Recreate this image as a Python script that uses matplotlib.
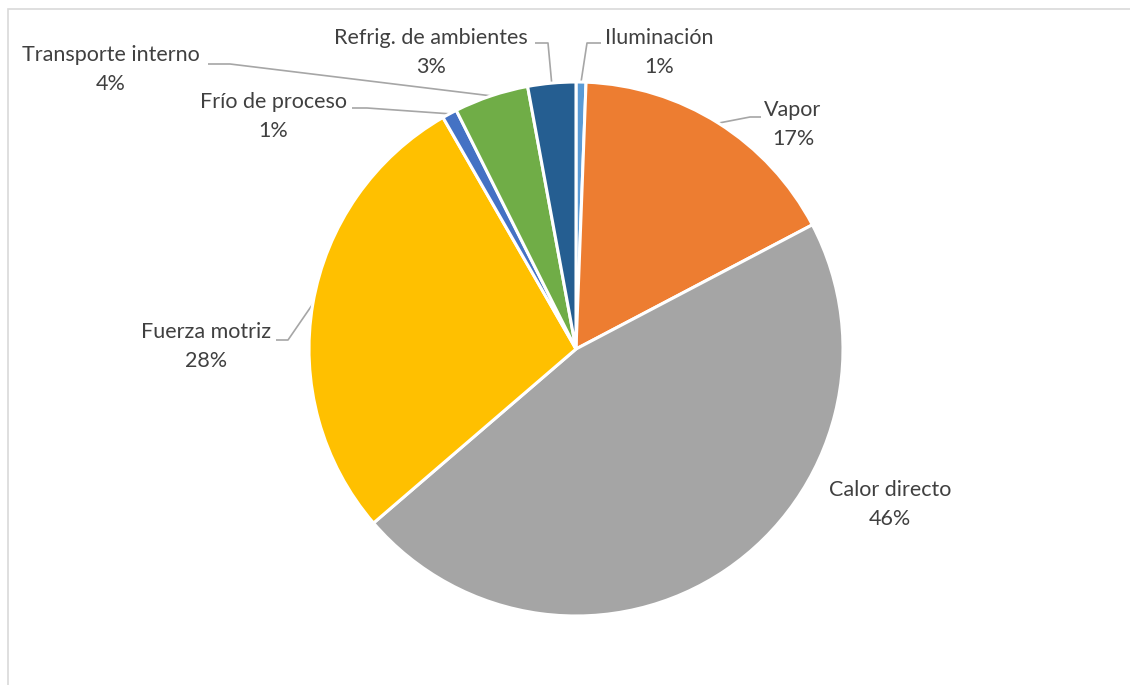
import matplotlib
matplotlib.use("Agg")
import matplotlib.pyplot as plt
import numpy as np
from matplotlib.patches import Rectangle

# ---- data ----
categories = ["Iluminación", "Vapor", "Calor directo", "Fuerza motriz",
              "Frío de proceso", "Transporte interno", "Refrig. de ambientes"]
values = [0.6, 16.7, 46.4, 28.0, 0.9, 4.5, 2.9]
pct_labels = ["1%", "17%", "46%", "28%", "1%", "4%", "3%"]
colors = ["#5B9BD5", "#ED7D31", "#A5A5A5", "#FFC000", "#4472C4", "#70AD47", "#255E91"]

W, H = 1130, 685
fig = plt.figure(figsize=(W / 100, H / 100), dpi=100)
ax = fig.add_axes([0, 0, 1, 1])
ax.set_xlim(0, W)
ax.set_ylim(0, H)
ax.set_aspect("equal")
ax.axis("off")

def Y(py):
    return H - py

# chart frame
ax.add_patch(Rectangle((8, -10), W + 20, Y(9) + 10, fill=False,
                       edgecolor="#D9D9D9", linewidth=1.2))

cx, cy, r = 576, Y(349), 267
wedges, _ = ax.pie(values, colors=colors, startangle=90, counterclock=False,
                   center=(cx, cy), radius=r, frame=True,
                   wedgeprops=dict(edgecolor="white", linewidth=2.2))
ax.set_xlim(0, W)
ax.set_ylim(0, H)
ax.axis("off")

# label layout: text centre (px), line start x, elbow x, elbow y  (None = no leader)
layout = [
    (659, 38, 601, 587, 43),
    (793, 110, 761, 750, 117),
    (890, 490, None, None, None),
    (206, 332, 276, 288, 340),
    (273, 102, 352, 367, 108),
    (111, 55, 208, 230, 64),
    (431, 38, 535, 548, 43),
]

font = dict(family=["Lato", "DejaVu Sans"], fontsize=15.5, color="#404040")
for w, cat, pl, (tx, ty, sx, ex, ey) in zip(wedges, categories, pct_labels, layout):
    ax.text(tx, Y(ty), cat, ha="center", va="center", **font)
    ax.text(tx, Y(ty + 29), pl, ha="center", va="center", **font)
    if sx is not None:
        mid = np.deg2rad((w.theta1 + w.theta2) / 2)
        axp = cx + r * np.cos(mid)
        ayp = cy + r * np.sin(mid)
        ax.plot([sx, ex, axp], [Y(ey), Y(ey), ayp], color="#A6A6A6",
                linewidth=1.2, solid_capstyle="butt", zorder=0.5)

fig.savefig("out.png", dpi=100, facecolor="white")
